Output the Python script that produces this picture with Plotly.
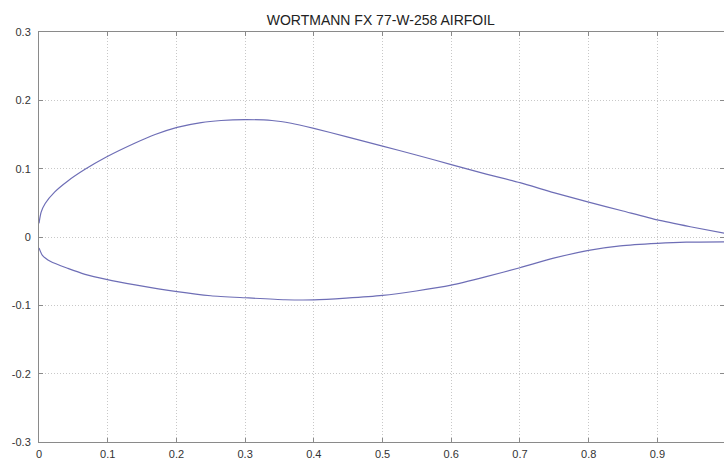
import plotly.graph_objects as go

title_text = "WORTMANN FX 77-W-258 AIRFOIL"

upper_x = [0.0, 0.003, 0.009, 0.023, 0.042, 0.067, 0.098, 0.14, 0.169, 0.201, 0.236, 0.265,
           0.30, 0.339, 0.367, 0.40, 0.447, 0.50, 0.549, 0.60, 0.651, 0.70, 0.749, 0.80,
           0.85, 0.90, 0.948, 1.00]
upper_y = [0.020, 0.036, 0.049, 0.066, 0.082, 0.099, 0.117, 0.1375, 0.150, 0.1605, 0.1675, 0.1705,
           0.1717, 0.1705, 0.1665, 0.159, 0.147, 0.133, 0.120, 0.106, 0.092, 0.0795, 0.065, 0.051,
           0.038, 0.025, 0.015, 0.005]

lower_x = [0.0, 0.005, 0.017, 0.042, 0.067, 0.098, 0.14, 0.201, 0.25, 0.30, 0.358, 0.40,
           0.447, 0.50, 0.549, 0.60, 0.651, 0.70, 0.749, 0.80, 0.846, 0.90, 0.942, 1.00]
lower_y = [-0.016, -0.027, -0.036, -0.046, -0.0546, -0.062, -0.070, -0.080, -0.086, -0.0889, -0.0918, -0.092,
           -0.0895, -0.0855, -0.079, -0.0705, -0.058, -0.045, -0.031, -0.0195, -0.013, -0.0093, -0.0075, -0.007]

x_ticks = [0, 0.1, 0.2, 0.3, 0.4, 0.5, 0.6, 0.7, 0.8, 0.9, 1]
x_tick_labels = ["0", "0.1", "0.2", "0.3", "0.4", "0.5", "0.6", "0.7", "0.8", "0.9", "1"]
y_ticks = [-0.3, -0.2, -0.1, 0, 0.1, 0.2, 0.3]
y_tick_labels = ["-0.3", "-0.2", "-0.1", "0", "0.1", "0.2", "0.3"]

line_color = "#6e6eb6"

fig = go.Figure()
for xs, ys in ((upper_x, upper_y), (lower_x, lower_y)):
    fig.add_trace(go.Scatter(x=xs, y=ys, mode="lines",
                             line=dict(color=line_color, width=1.2, shape="spline", smoothing=0.6),
                             showlegend=False, hoverinfo="skip"))

axis_common = dict(
    showline=True, linecolor="#8a8a8a", linewidth=1, mirror="ticks",
    ticks="inside", ticklen=4, tickcolor="#8a8a8a", tickwidth=1,
    showgrid=True, gridcolor="#c8c8c8", griddash="1px,2px", gridwidth=1,
    zeroline=False, automargin=False,
    tickfont=dict(family="Liberation Sans, Arial, sans-serif", size=11, color="#333333"),
)

fig.update_layout(
    width=724, height=467,
    margin=dict(l=39, r=0, t=32, b=25, autoexpand=False),
    paper_bgcolor="white", plot_bgcolor="white",
    title=dict(text=title_text, x=0.526, xanchor="center", y=0.958, yanchor="middle",
               font=dict(family="Liberation Sans, Arial, sans-serif", size=14, color="#222222")),
    xaxis=dict(range=[0, 0.997], tickmode="array", tickvals=x_ticks, ticktext=x_tick_labels,
               ticklabelstandoff=2, **axis_common),
    yaxis=dict(range=[-0.3, 0.3], tickmode="array", tickvals=y_ticks, ticktext=y_tick_labels,
               ticklabelstandoff=5, **axis_common),
)

fig.write_html("out.html", config={"displayModeBar": False, "staticPlot": True},
               post_script="document.body.style.margin='0';document.body.style.overflow='hidden';")
